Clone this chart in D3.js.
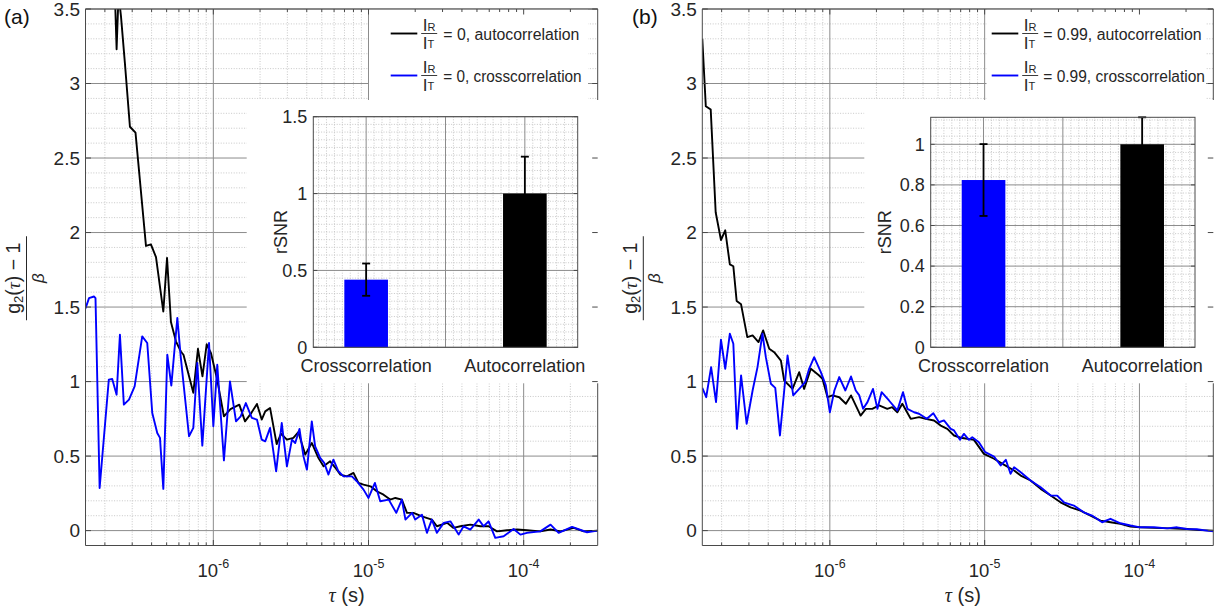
<!DOCTYPE html>
<html><head><meta charset="utf-8">
<script src="https://cdn.jsdelivr.net/npm/d3@7"></script>
<style>
body{margin:0;background:#fff}
svg{display:block}
text{font-family:"Liberation Sans",Arial,Helvetica,sans-serif;fill:#262626}
</style>
</head><body>
<svg id="chart" width="1215" height="613"></svg>
<script>
// ---------------- data ----------------
const tauDomain = [1.5e-7, 3e-4];
const gDomain = [-0.1, 3.5];
const gTicks = [0, 0.5, 1, 1.5, 2, 2.5, 3, 3.5];
const tauTicks = [1e-6, 1e-5, 1e-4];
const tauTickExp = ["-6", "-5", "-4"];

// panel (a): I_R/I_T = 0
const aAuto = [[1.50e-7,7.0],[1.65e-7,6.0],[1.85e-7,5.2],[2.00e-7,4.6],[2.12e-7,4.2],[2.23e-7,3.9],[2.32e-7,3.6],[2.38e-7,3.23],[2.45e-7,3.6],[2.54e-7,3.45],[2.69e-7,3.14],[2.90e-7,2.71],[3.15e-7,2.67],[3.68e-7,1.91],[3.96e-7,1.92],[4.27e-7,1.835],[4.76e-7,1.47],[5.03e-7,1.83],[5.33e-7,1.40],[5.74e-7,1.27],[6.19e-7,1.20],[6.42e-7,1.18],[7.43e-7,0.925],[7.96e-7,1.22],[8.51e-7,1.035],[9.06e-7,1.25],[9.66e-7,1.19],[1.06e-6,1.01],[1.17e-6,0.767],[1.29e-6,0.815],[1.47e-6,0.845],[1.60e-6,0.733],[1.76e-6,0.79],[1.91e-6,0.85],[2.05e-6,0.745],[2.16e-6,0.80],[2.32e-6,0.823],[2.56e-6,0.58],[2.73e-6,0.65],[2.98e-6,0.61],[3.28e-6,0.622],[3.53e-6,0.66],[3.91e-6,0.51],[4.31e-6,0.588],[4.75e-6,0.488],[5.13e-6,0.431],[5.66e-6,0.465],[6.25e-6,0.409],[6.57e-6,0.376],[7.26e-6,0.364],[8.00e-6,0.387],[8.61e-6,0.32],[9.29e-6,0.309],[1.03e-5,0.297],[1.13e-5,0.264],[1.25e-5,0.241],[1.38e-5,0.208],[1.49e-5,0.219],[1.64e-5,0.208],[1.77e-5,0.119],[1.95e-5,0.119],[2.21e-5,0.096],[2.56e-5,0.074],[2.76e-5,0.029],[3.21e-5,0.052],[3.53e-5,0.018],[3.91e-5,0.029],[4.53e-5,0.04],[5.26e-5,0.029],[5.94e-5,0.029],[6.73e-5,-0.005],[7.82e-5,0.002],[9.06e-5,0.007],[1.05e-4,0.002],[1.28e-4,-0.005],[1.49e-4,0.007],[1.73e-4,-0.005],[2.10e-4,0.018],[2.44e-4,-0.005],[3.0e-4,0.0]];
const aCross = [[1.50e-7,1.49],[1.58e-7,1.56],[1.70e-7,1.571],[1.74e-7,1.56],[1.85e-7,0.286],[2.12e-7,1.013],[2.23e-7,1.017],[2.38e-7,0.912],[2.50e-7,1.315],[2.65e-7,0.845],[2.86e-7,0.879],[3.11e-7,0.968],[3.48e-7,1.303],[3.75e-7,1.259],[4.04e-7,0.789],[4.35e-7,0.655],[4.53e-7,0.622],[4.76e-7,0.28],[5.05e-7,1.18],[5.36e-7,0.973],[5.86e-7,1.427],[6.16e-7,1.169],[6.97e-7,0.633],[7.43e-7,0.689],[7.88e-7,1.125],[8.49e-7,0.57],[9.38e-7,1.259],[1.00e-6,0.70],[1.06e-6,1.113],[1.17e-6,0.471],[1.28e-6,1.001],[1.40e-6,0.733],[1.50e-6,0.767],[1.62e-6,0.856],[1.77e-6,0.756],[1.91e-6,0.745],[2.05e-6,0.61],[2.16e-6,0.599],[2.32e-6,0.689],[2.54e-6,0.398],[2.76e-6,0.722],[2.98e-6,0.431],[3.21e-6,0.61],[3.37e-6,0.588],[3.59e-6,0.682],[3.81e-6,0.498],[4.01e-6,0.409],[4.31e-6,0.733],[4.53e-6,0.565],[4.88e-6,0.488],[5.18e-6,0.454],[5.52e-6,0.376],[5.94e-6,0.476],[6.40e-6,0.398],[6.90e-6,0.364],[7.82e-6,0.364],[8.41e-6,0.331],[9.29e-6,0.275],[1.00e-5,0.219],[1.10e-5,0.32],[1.19e-5,0.197],[1.35e-5,0.208],[1.51e-5,0.119],[1.64e-5,0.208],[1.73e-5,0.074],[1.91e-5,0.119],[2.00e-5,0.074],[2.21e-5,0.107],[2.38e-5,-0.015],[2.56e-5,0.074],[2.76e-5,-0.015],[3.05e-5,0.052],[3.37e-5,0.062],[3.81e-5,-0.027],[4.10e-5,0.029],[4.53e-5,0.007],[5.13e-5,0.074],[5.52e-5,0.029],[5.94e-5,0.062],[6.56e-5,-0.049],[7.43e-5,-0.038],[8.61e-5,0.011],[9.53e-5,-0.027],[1.05e-4,-0.015],[1.28e-4,-0.005],[1.49e-4,0.04],[1.68e-4,-0.015],[2.05e-4,0.025],[2.56e-4,-0.011],[3.0e-4,0.0]];

// panel (b): I_R/I_T = 0.99
const bAuto = [[1.50e-7,3.30],[1.58e-7,2.848],[1.70e-7,2.825],[1.83e-7,2.136],[1.98e-7,1.95],[2.11e-7,2.015],[2.26e-7,1.786],[2.38e-7,1.774],[2.50e-7,1.541],[2.67e-7,1.518],[2.93e-7,1.298],[3.17e-7,1.31],[3.46e-7,1.265],[3.71e-7,1.343],[4.06e-7,1.22],[4.37e-7,1.197],[4.83e-7,1.141],[5.07e-7,1.007],[5.74e-7,0.951],[6.34e-7,1.063],[6.82e-7,0.951],[7.54e-7,1.086],[8.53e-7,1.041],[8.96e-7,1.019],[9.66e-7,0.895],[1.04e-6,0.907],[1.15e-6,0.895],[1.27e-6,0.851],[1.37e-6,0.907],[1.58e-6,0.772],[1.71e-6,0.817],[1.88e-6,0.817],[2.08e-6,0.84],[2.35e-6,0.817],[2.53e-6,0.828],[2.73e-6,0.794],[2.94e-6,0.851],[3.33e-6,0.75],[3.77e-6,0.761],[4.16e-6,0.75],[4.71e-6,0.739],[5.20e-6,0.705],[5.74e-6,0.683],[6.34e-6,0.638],[7.00e-6,0.623],[7.72e-6,0.616],[8.53e-6,0.609],[9.89e-6,0.515],[1.15e-5,0.482],[1.33e-5,0.443],[1.55e-5,0.403],[1.71e-5,0.369],[1.98e-5,0.336],[2.30e-5,0.28],[2.67e-5,0.235],[3.09e-5,0.19],[3.59e-5,0.156],[4.16e-5,0.134],[4.83e-5,0.101],[5.60e-5,0.067],[6.50e-5,0.056],[7.54e-5,0.045],[8.75e-5,0.027],[1.01e-4,0.022],[1.24e-4,0.018],[1.58e-4,0.015],[2.03e-4,0.011],[2.48e-4,0.003],[3.0e-4,0.0]];
const bCross = [[1.50e-7,0.958],[1.59e-7,0.895],[1.71e-7,1.097],[1.84e-7,0.862],[1.98e-7,1.281],[2.11e-7,1.086],[2.26e-7,1.321],[2.38e-7,1.254],[2.51e-7,0.683],[2.67e-7,1.041],[2.90e-7,0.717],[3.17e-7,0.94],[3.41e-7,1.097],[3.67e-7,1.321],[3.86e-7,1.164],[4.16e-7,0.985],[4.44e-7,0.958],[4.76e-7,0.638],[5.33e-7,1.175],[5.80e-7,0.907],[6.34e-7,0.951],[6.93e-7,0.996],[7.35e-7,1.086],[7.92e-7,1.164],[8.75e-7,1.063],[9.42e-7,0.974],[1.00e-6,0.794],[1.07e-6,0.94],[1.15e-6,1.03],[1.26e-6,0.94],[1.37e-6,1.034],[1.47e-6,0.94],[1.55e-6,0.907],[1.64e-6,0.817],[1.75e-6,0.862],[1.90e-6,0.951],[2.03e-6,0.817],[2.16e-6,0.929],[2.41e-6,0.873],[2.73e-6,0.806],[2.97e-6,0.929],[3.17e-6,0.817],[3.50e-6,0.794],[3.77e-6,0.784],[4.23e-6,0.75],[4.66e-6,0.788],[5.07e-6,0.727],[5.46e-6,0.739],[6.04e-6,0.683],[6.34e-6,0.672],[6.93e-6,0.609],[7.35e-6,0.649],[7.92e-6,0.609],[8.32e-6,0.627],[9.18e-6,0.593],[1.01e-5,0.526],[1.15e-5,0.497],[1.27e-5,0.437],[1.37e-5,0.475],[1.47e-5,0.381],[1.55e-5,0.425],[1.71e-5,0.392],[1.98e-5,0.336],[2.30e-5,0.291],[2.67e-5,0.235],[2.94e-5,0.235],[3.25e-5,0.19],[3.77e-5,0.168],[4.37e-5,0.123],[4.94e-5,0.101],[5.74e-5,0.056],[6.50e-5,0.079],[7.54e-5,0.049],[8.75e-5,0.034],[1.01e-4,0.022],[1.24e-4,0.022],[1.51e-4,0.015],[1.75e-4,0.022],[2.03e-4,0.011],[2.35e-4,0.009],[2.73e-4,0.0],[3.0e-4,-0.005]];

// inset bar charts (relative SNR)
const rsnrCategories = ["Crosscorrelation", "Autocorrelation"];
const aRsnr = [0.44, 1.0];
const aRsnrErr = [0.105, 0.24];
const bRsnr = [0.824, 1.0];
const bRsnrErr = [0.177, 0.133];
const aRsnrTicks = [0, 0.5, 1, 1.5];
const bRsnrTicks = [0, 0.2, 0.4, 0.6, 0.8, 1];

const legendA = ["= 0, autocorrelation", "= 0, crosscorrelation"];
const legendB = ["= 0.99, autocorrelation", "= 0.99, crosscorrelation"];

// ---------------- layout ----------------
const svg = d3.select("#chart");
const BLUE = "#0000ff", BLACK = "#000000";
const MAJOR_GRID = "#8c8c8c", MINOR_GRID = "#c2c2c2", FRAME = "#4a4a4a";

const panels = [
  {id:"a", L:85.5, R:597.7, T:9, B:545.5, label:"(a)", labelX:4,
   auto:aAuto, cross:aCross, legend:legendA,
   legLineX:390.7, legTextX:443.3, legLens:[136,138.3], legBox:[369,9.5,588,100],
   white:[246.7,100,599,383.3],
   inset:{L:313.3,R:577.7,T:116.7,B:347.3,max:1.5,ticks:aRsnrTicks,minor:0.05,vals:aRsnr,errs:aRsnrErr,labOff:26.5}},
  {id:"b", L:702.3, R:1213.3, T:9, B:545.5, label:"(b)", labelX:632,
   auto:bAuto, cross:bCross, legend:legendB,
   legLineX:991.7, legTextX:1043.3, legLens:[158.3,161.7], legBox:[986.5,9.5,1206,100],
   white:[864.3,100,1215,383.3],
   inset:{L:930.7,R:1195,T:117.3,B:347.3,max:1.133,ticks:bRsnrTicks,minor:0.04,vals:bRsnr,errs:bRsnrErr,labOff:39.5}}
];

function vline(g, xs, y1, y2, color, w, dash){
  g.append("g").selectAll("line").data(xs).join("line")
    .attr("x1", d=>d).attr("x2", d=>d).attr("y1", y1).attr("y2", y2)
    .attr("stroke", color).attr("stroke-width", w).attr("stroke-dasharray", dash || null);
}
function hline(g, ys, x1, x2, color, w, dash){
  g.append("g").selectAll("line").data(ys).join("line")
    .attr("y1", d=>d).attr("y2", d=>d).attr("x1", x1).attr("x2", x2)
    .attr("stroke", color).attr("stroke-width", w).attr("stroke-dasharray", dash || null);
}

panels.forEach(p => {
  const x = d3.scaleLog().domain(tauDomain).range([p.L, p.R]);
  const y = d3.scaleLinear().domain(gDomain).range([p.B, p.T]);
  const g = svg.append("g");

  const clipId = "clip-" + p.id;
  g.append("clipPath").attr("id", clipId).append("rect")
    .attr("x", p.L).attr("y", p.T).attr("width", p.R - p.L).attr("height", p.B - p.T);

  const minorX = [];
  [-7,-6,-5,-4].forEach(e => { for (let m = 2; m <= 9; m++) { const v = m * Math.pow(10, e); if (v > tauDomain[0] && v < tauDomain[1]) minorX.push(v); } });
  const minorY = d3.range(-1, 36).map(i => i / 10).filter(v => Math.round(v * 10) % 5 !== 0);

  // grid
  vline(g, minorX.map(x), p.T, p.B, MINOR_GRID, 0.9, "1,1.6");
  hline(g, minorY.map(y), p.L, p.R, MINOR_GRID, 0.9, "1,1.6");
  vline(g, tauTicks.map(x), p.T, p.B, MAJOR_GRID, 1);
  hline(g, gTicks.map(y), p.L, p.R, MAJOR_GRID, 1);

  // curves
  const line = d3.line().x(d => x(d[0])).y(d => y(d[1]));
  const cg = g.append("g").attr("clip-path", `url(#${clipId})`);
  cg.append("path").datum(p.auto).attr("d", line).attr("fill", "none")
    .attr("stroke", BLACK).attr("stroke-width", 1.9).attr("stroke-linejoin", "round");
  cg.append("path").datum(p.cross).attr("d", line).attr("fill", "none")
    .attr("stroke", BLUE).attr("stroke-width", 1.9).attr("stroke-linejoin", "round");

  // legend box and inset white area
  const lb = p.legBox;
  g.append("rect").attr("x", lb[0]).attr("y", lb[1]).attr("width", lb[2]-lb[0]).attr("height", lb[3]-lb[1]).attr("fill", "#fff");
  const w = p.white;
  g.append("rect").attr("x", w[0]).attr("y", w[1]).attr("width", w[2]-w[0]).attr("height", w[3]-w[1]).attr("fill", "#fff");

  // frame
  const fr = g.append("g").attr("stroke", FRAME).attr("stroke-width", 1).attr("fill", "none");
  fr.append("line").attr("x1", p.L).attr("x2", p.R).attr("y1", p.T).attr("y2", p.T);
  fr.append("line").attr("x1", p.L).attr("x2", p.R).attr("y1", p.B).attr("y2", p.B);
  fr.append("line").attr("x1", p.L).attr("x2", p.L).attr("y1", p.T).attr("y2", p.B);
  fr.append("line").attr("x1", p.R).attr("x2", p.R).attr("y1", p.T).attr("y2", w[1]);
  fr.append("line").attr("x1", p.R).attr("x2", p.R).attr("y1", w[3]).attr("y2", p.B);

  // ticks
  const tk = g.append("g").attr("stroke", FRAME).attr("stroke-width", 1);
  tauTicks.forEach(v => {
    tk.append("line").attr("x1", x(v)).attr("x2", x(v)).attr("y1", p.B).attr("y2", p.B - 5.5);
    tk.append("line").attr("x1", x(v)).attr("x2", x(v)).attr("y1", p.T).attr("y2", p.T + 5.5);
  });
  minorX.forEach(v => {
    tk.append("line").attr("x1", x(v)).attr("x2", x(v)).attr("y1", p.B).attr("y2", p.B - 3);
    tk.append("line").attr("x1", x(v)).attr("x2", x(v)).attr("y1", p.T).attr("y2", p.T + 3);
  });
  gTicks.forEach(v => {
    tk.append("line").attr("x1", p.L).attr("x2", p.L + 5.5).attr("y1", y(v)).attr("y2", y(v));
    tk.append("line").attr("x1", p.R).attr("x2", p.R - 5.5).attr("y1", y(v)).attr("y2", y(v));
  });

  // tick labels
  g.append("g").selectAll("text").data(gTicks).join("text")
    .attr("x", p.L - 5.5).attr("y", d => y(d) + 6.8).attr("text-anchor", "end")
    .attr("font-size", 19).text(d => String(d));
  tauTicks.forEach((v, i) => {
    const t = g.append("text").attr("x", x(v)).attr("y", 577).attr("text-anchor", "middle").attr("font-size", 18.5);
    t.append("tspan").text("10");
    t.append("tspan").attr("dy", -9).attr("font-size", 12.5).text(tauTickExp[i]);
  });

  // x label
  const xl = g.append("text").attr("x", (p.L + p.R) / 2 + 5).attr("y", 602).attr("text-anchor", "middle").attr("font-size", 20);
  xl.append("tspan").attr("font-family", "Liberation Serif, Times New Roman, serif").attr("font-style", "italic").text("τ");
  xl.append("tspan").text(" (s)");

  // y label (fraction)
  const yl = g.append("g").attr("transform", `translate(${p.L - 59},${(p.T + p.B) / 2 + 1}) rotate(-90)`);
  yl.append("line").attr("x1", -42).attr("x2", 42).attr("y1", 0).attr("y2", 0).attr("stroke", "#262626").attr("stroke-width", 1);
  const num = yl.append("text").attr("x", 0).attr("y", -6.5).attr("text-anchor", "middle").attr("font-size", 19.5);
  num.append("tspan").text("g");
  num.append("tspan").attr("font-size", 13).attr("dy", 3).text("2");
  num.append("tspan").attr("dy", -3).text("(");
  num.append("tspan").attr("font-family", "Liberation Serif, serif").attr("font-style", "italic").text("τ");
  num.append("tspan").text(") − 1");
  yl.append("text").attr("x", 0).attr("y", 17).attr("text-anchor", "middle").attr("font-size", 17)
    .attr("font-family", "Liberation Serif, serif").attr("font-style", "italic").text("β");

  // panel label
  g.append("text").attr("x", p.labelX).attr("y", 24).attr("font-size", 21).style("fill", "#111").text(p.label);

  // legend content
  const rows = [33.5, 75.5];
  const colors = [BLACK, BLUE];
  rows.forEach((cy, i) => {
    g.append("line").attr("x1", p.legLineX).attr("x2", p.legLineX + 26.6).attr("y1", cy).attr("y2", cy)
      .attr("stroke", colors[i]).attr("stroke-width", 1.9);
    const fx = p.legLineX + 30.5;
    g.append("line").attr("x1", fx).attr("x2", fx + 16).attr("y1", cy).attr("y2", cy).attr("stroke", "#262626").attr("stroke-width", 0.9);
    const n = g.append("text").attr("x", fx + 1.5).attr("y", cy - 2.2).attr("font-size", 17);
    n.append("tspan").text("I");
    n.append("tspan").attr("font-size", 11).attr("dy", -0.8).text("R");
    const d = g.append("text").attr("x", fx + 1.5).attr("y", cy + 15.5).attr("font-size", 17);
    d.append("tspan").text("I");
    d.append("tspan").attr("font-size", 11).attr("dy", -0.8).text("T");
    g.append("text").attr("x", p.legTextX).attr("y", cy + 6).attr("font-size", 16)
      .attr("textLength", p.legLens[i]).attr("lengthAdjust", "spacingAndGlyphs").text(p.legend[i]);
  });

  // ---------------- inset ----------------
  const q = p.inset;
  const xi = d3.scaleLinear().domain([0.667, 2.333]).range([q.L, q.R]);
  const yi = d3.scaleLinear().domain([0, q.max]).range([q.B, q.T]);
  const ig = g.append("g");
  ig.append("rect").attr("x", q.L).attr("y", q.T).attr("width", q.R - q.L).attr("height", q.B - q.T).attr("fill", "#fff");
  const iMinorX = d3.range(14, 47).map(i => i / 20).filter(v => Math.abs(v - 1) > 1e-6 && Math.abs(v - 1.5) > 1e-6 && Math.abs(v - 2) > 1e-6);
  const nMinY = Math.floor(q.max / q.minor + 1e-6);
  const iMinorY = d3.range(1, nMinY + 1).map(i => +(i * q.minor).toFixed(3)).filter(v => !q.ticks.some(t => Math.abs(t - v) < 1e-6));
  vline(ig, iMinorX.map(xi), q.T, q.B, MINOR_GRID, 0.9, "1,1.6");
  hline(ig, iMinorY.map(yi), q.L, q.R, MINOR_GRID, 0.9, "1,1.6");
  vline(ig, [1, 1.5, 2].map(xi), q.T, q.B, MAJOR_GRID, 1);
  hline(ig, q.ticks.map(yi), q.L, q.R, MAJOR_GRID, 1);

  const bw = 0.275;
  ig.selectAll("rect.bar").data(q.vals).join("rect").attr("class", "bar")
    .attr("x", (d, i) => xi(i + 1 - bw / 2)).attr("width", xi(1 + bw / 2) - xi(1 - bw / 2))
    .attr("y", d => yi(d)).attr("height", d => yi(0) - yi(d))
    .attr("fill", (d, i) => i === 0 ? BLUE : BLACK);
  q.vals.forEach((v, i) => {
    const cx = xi(i + 1), e = q.errs[i];
    const lo = yi(v - e), hi = yi(v + e);
    ig.append("line").attr("x1", cx).attr("x2", cx).attr("y1", lo).attr("y2", hi).attr("stroke", BLACK).attr("stroke-width", 1.8);
    [lo, hi].forEach(yy => ig.append("line").attr("x1", cx - 4).attr("x2", cx + 4).attr("y1", yy).attr("y2", yy).attr("stroke", BLACK).attr("stroke-width", 1.8));
  });
  ig.append("rect").attr("x", q.L).attr("y", q.T).attr("width", q.R - q.L).attr("height", q.B - q.T)
    .attr("fill", "none").attr("stroke", FRAME).attr("stroke-width", 1);
  q.ticks.forEach(v => {
    ig.append("line").attr("x1", q.L).attr("x2", q.L + 4).attr("y1", yi(v)).attr("y2", yi(v)).attr("stroke", FRAME);
    ig.append("line").attr("x1", q.R).attr("x2", q.R - 4).attr("y1", yi(v)).attr("y2", yi(v)).attr("stroke", FRAME);
  });
  ig.append("g").selectAll("text").data(q.ticks).join("text")
    .attr("x", q.L - 6).attr("y", d => yi(d) + 6.3).attr("text-anchor", "end").attr("font-size", 18).text(d => String(d));
  ig.append("g").selectAll("text").data(rsnrCategories).join("text")
    .attr("x", (d, i) => xi(i + 1)).attr("y", 371.5).attr("text-anchor", "middle").attr("font-size", 18).text(d => d);
  ig.append("text").attr("transform", `translate(${q.L - q.labOff},${(q.T + q.B) / 2}) rotate(-90)`)
    .attr("text-anchor", "middle").attr("font-size", 18).text("rSNR");
});
</script>
</body></html>
